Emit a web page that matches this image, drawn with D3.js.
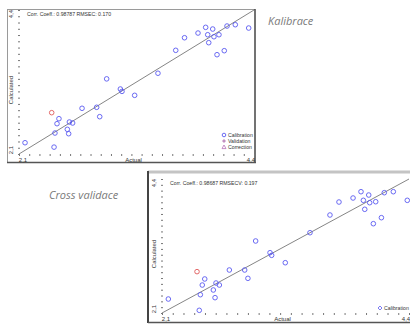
<!DOCTYPE html>
<html><head><meta charset="utf-8">
<script src="https://cdn.jsdelivr.net/npm/d3@7"></script>
<style>body{margin:0;background:#fff}svg{display:block}</style>
</head><body>
<svg id="c" width="410" height="325"></svg>
<script>
// ---- data ----
const calActual = [2.159,2.443,2.452,2.472,2.491,2.573,2.586,2.593,2.625,2.717,2.86,2.89,2.958,3.092,3.108,3.232,3.46,3.634,3.72,3.852,3.927,3.947,3.957,3.996,4.008,4.038,4.057,4.109,4.136,4.217,4.348];
const calPred   = [2.28,2.21,2.435,2.584,2.664,2.494,2.424,2.611,2.595,2.83,2.846,2.696,3.30,3.138,3.10,3.037,3.39,3.756,3.957,4.032,4.123,4.005,3.878,4.096,3.973,3.686,4.005,3.75,4.144,4.165,4.112];
const calOutlier = [[2.42, 2.76]];
const cvActual = [2.159,2.447,2.457,2.475,2.498,2.578,2.594,2.603,2.634,2.727,2.87,2.90,2.972,3.106,3.121,3.248,3.478,3.664,3.748,3.879,3.953,3.975,3.988,4.025,4.034,4.068,4.09,4.143,4.17,4.254,4.384];
const cvPred   = [2.34,2.146,2.414,2.58,2.684,2.495,2.363,2.615,2.58,2.838,2.838,2.695,3.336,3.135,3.09,2.963,3.478,3.782,4.005,4.074,4.182,4.034,3.88,4.125,3.993,3.633,4.01,3.736,4.165,4.182,4.034];
const cvOutlier = [[2.426, 2.81]];
const axisMin = 2.1, axisMax = 4.4;
const tickLabels = ["2,1","4,4"];
const statsCal = "Corr. Coeff.: 0.98787   RMSEC: 0.170";
const statsCV  = "Corr. Coeff.: 0.98687   RMSECV: 0.197";
const legendCal = ["Calibration","Validation","Correction"];
const legendCV = ["Calibration"];

const svg = d3.select("#c");
const FONT = "Liberation Sans, Arial, sans-serif";
const ptColor = "#5a5af0", redColor = "#e05a5a";

function panel(o){
  const g = svg.append("g");
  if(o.frame==="top"){
    g.append("line").attr("x1",7).attr("y1",9.5).attr("x2",255).attr("y2",9.5).attr("stroke","#9a9a9a");
    g.append("line").attr("x1",7.5).attr("y1",9).attr("x2",7.5).attr("y2",163).attr("stroke","#9a9a9a");
    g.append("line").attr("x1",255).attr("y1",9).attr("x2",255).attr("y2",163).attr("stroke","#444").attr("stroke-width",1.5);
    g.append("line").attr("x1",7).attr("y1",162.5).attr("x2",256).attr("y2",162.5).attr("stroke","#555").attr("stroke-width",1.5);
  } else {
    g.append("line").attr("x1",148).attr("y1",172).attr("x2",410).attr("y2",172).attr("stroke","#c4c4c4").attr("stroke-width",3);
    g.append("line").attr("x1",148).attr("y1",171).attr("x2",148).attr("y2",323).attr("stroke","#444").attr("stroke-width",2);
    g.append("line").attr("x1",148).attr("y1",322.5).attr("x2",410).attr("y2",322.5).attr("stroke","#555").attr("stroke-width",1.5);
  }
  const x = d3.scaleLinear().domain([axisMin,axisMax]).range([o.x0,o.x1]);
  const y = d3.scaleLinear().domain([axisMin,axisMax]).range([o.y0,o.y1]);
  const ticks = d3.range(0,24).map(i=>axisMin+i*0.1);
  const ya = d3.axisLeft(y).tickValues(ticks).tickSize(2).tickFormat("");
  const yg = g.append("g").attr("transform",`translate(${o.x0+1},0)`).call(ya);
  yg.select(".domain").remove();
  yg.selectAll("line").attr("stroke","#777");
  const xa = d3.axisBottom(x).tickValues(ticks).tickSize(2).tickFormat("");
  const xg = g.append("g").attr("transform",`translate(0,${o.y0})`).call(xa);
  xg.select(".domain").remove();
  xg.selectAll("line").attr("stroke","#777");
  g.append("line").attr("x1",x(axisMin)).attr("y1",y(axisMin)).attr("x2",x(axisMax)).attr("y2",y(axisMax))
    .attr("stroke","#666").attr("stroke-width",0.8);
  g.selectAll("circle.p").data(o.ax.map((v,i)=>[v,o.pr[i]])).enter().append("circle")
    .attr("cx",d=>x(d[0])).attr("cy",d=>y(d[1])).attr("r",2.3)
    .attr("fill","none").attr("stroke",ptColor).attr("stroke-width",0.9);
  g.selectAll("circle.r").data(o.out).enter().append("circle")
    .attr("cx",d=>x(d[0])).attr("cy",d=>y(d[1])).attr("r",2.3)
    .attr("fill","none").attr("stroke",redColor).attr("stroke-width",0.9);
  const t = (xx,yy,s,size,extra)=>{const e=g.append("text").attr("x",xx).attr("y",yy).text(s)
     .attr("font-family",FONT).attr("font-size",size).attr("fill","#333"); if(extra) extra(e); return e;};
  t(o.x0+8, o.y1+6, o.stats, 5.2);
  t(x(axisMin)+4, o.y0+8, tickLabels[0], 6, e=>e.attr("text-anchor","middle"));
  t(x(axisMax)-3, o.y0+8, tickLabels[1], 6, e=>e.attr("text-anchor","middle"));
  t((o.x0+o.x1)/2-3, o.y0+8, "Actual", 6, e=>e.attr("text-anchor","middle"));
  t(0,0,"Calculated",6,e=>e.attr("text-anchor","middle").attr("transform",`translate(${o.x0-6},${(o.y0+o.y1)/2+8}) rotate(-90)`));
  t(0,0,tickLabels[0],6,e=>e.attr("text-anchor","middle").attr("transform",`translate(${o.x0-6},${o.y0-4}) rotate(-90)`));
  t(0,0,tickLabels[1],6,e=>e.attr("text-anchor","middle").attr("transform",`translate(${o.x0-6},${o.y1+4}) rotate(-90)`));
  o.legend.forEach((s,i)=>{
    const lx=o.lx, ly=o.ly+i*6;
    if(i===0){
      if(o.diamond) g.append("path").attr("d",`M${lx},${ly-2}L${lx+2},${ly}L${lx},${ly+2}L${lx-2},${ly}Z`).attr("fill","none").attr("stroke",ptColor).attr("stroke-width",0.8);
      else g.append("circle").attr("cx",lx).attr("cy",ly).attr("r",1.8).attr("fill","none").attr("stroke",ptColor).attr("stroke-width",0.9);
    }
    if(i===1) g.append("path").attr("d",`M${lx-1.8},${ly}H${lx+1.8}M${lx},${ly-1.8}V${ly+1.8}`).attr("fill","none").attr("stroke","#a050a0").attr("stroke-width",0.8);
    if(i===2) g.append("path").attr("d",`M${lx},${ly-2}L${lx+2},${ly+1.6}L${lx-2},${ly+1.6}Z`).attr("fill","none").attr("stroke","#b060b0").attr("stroke-width",0.7);
    t(lx+4, ly+2, s, 5.2);
  });
}

panel({frame:"top",x0:19,x1:254,y0:154,y1:10,ax:calActual,pr:calPred,out:calOutlier,stats:statsCal,legend:legendCal,lx:224,ly:135});
panel({frame:"bottom",x0:162,x1:409,y0:313,y1:179,ax:cvActual,pr:cvPred,out:cvOutlier,stats:statsCV,legend:legendCV,lx:380,ly:308,diamond:true});

svg.append("text").attr("x",268).attr("y",25).text("Kalibrace").attr("font-family","Open Sans, sans-serif")
  .attr("font-style","italic").attr("font-size",11).attr("fill","#7a7a7a");
svg.append("text").attr("x",49).attr("y",199).text("Cross validace").attr("font-family","Open Sans, sans-serif")
  .attr("font-style","italic").attr("font-size",11).attr("fill","#7a7a7a");
</script>
</body></html>
